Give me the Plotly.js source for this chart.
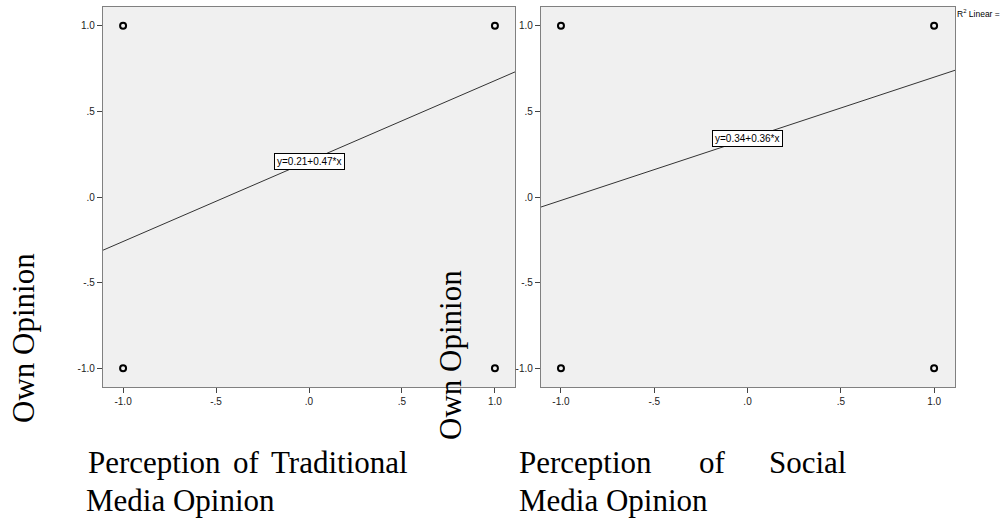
<!DOCTYPE html>
<html>
<head>
<meta charset="utf-8">
<script src="https://cdn.plot.ly/plotly-3.0.1.min.js"></script>
<style>html,body{margin:0;padding:0;background:#fff;}#chart{width:1001px;height:524px;}</style>
</head>
<body>
<div id="chart"></div>
<script>
// Data
const leftX = [-1, 1, -1, 1];
const leftY = [1, 1, -1, -1];
const rightX = [-1, 1, -1, 1];
const rightY = [1, 1, -1, -1];
const intercepts = [0.21, 0.34];
const slopes = [0.47, 0.36];
const equationLabels = ["y=0.21+0.47*x", "y=0.34+0.36*x"];
const tickVals = [-1, -0.5, 0, 0.5, 1];
const tickText = ["-1.0", "-.5", ".0", ".5", "1.0"];
const xRanges = [[-1.108, 1.108], [-1.107, 1.112]];
const yRange = [-1.11, 1.11];

const W = 1001, H = 524;
const px = v => v / W;
const py = v => 1 - v / H;

function fitLine(i, xa, ya) {
  const xs = xRanges[i];
  return {
    x: xs, y: xs.map(x => intercepts[i] + slopes[i] * x),
    xaxis: xa, yaxis: ya, mode: 'lines', type: 'scatter',
    line: {color: '#333333', width: 1}, hoverinfo: 'skip', showlegend: false
  };
}
function pts(xs, ys, xa, ya) {
  return {
    x: xs, y: ys, xaxis: xa, yaxis: ya, mode: 'markers', type: 'scatter',
    marker: {symbol: 'circle-open', size: 6, color: '#000', line: {width: 2, color: '#000'}},
    showlegend: false, cliponaxis: false
  };
}

const data = [
  fitLine(0, 'x', 'y'), pts(leftX, leftY, 'x', 'y'),
  fitLine(1, 'x2', 'y2'), pts(rightX, rightY, 'x2', 'y2')
];

const axisCommon = {
  showgrid: false, zeroline: false, showline: true, mirror: true,
  linecolor: '#808080', linewidth: 1.2,
  ticks: 'outside', ticklen: 5, tickwidth: 1, tickcolor: '#444',
  tickvals: tickVals, ticktext: tickText,
  tickfont: {family: 'Liberation Sans, Arial, sans-serif', size: 10, color: '#222'},
  fixedrange: true
};

const serif = {family: 'Liberation Serif, Times New Roman, serif', size: 31, color: '#000'};

const annotations = [
  {xref: 'x', yref: 'y', x: 0, y: intercepts[0], text: equationLabels[0], showarrow: false,
   bgcolor: '#ffffff', bordercolor: '#000', borderwidth: 1, borderpad: 2,
   font: {family: 'Liberation Sans, Arial, sans-serif', size: 10, color: '#000'}},
  {xref: 'x2', yref: 'y2', x: 0, y: intercepts[1], text: equationLabels[1], showarrow: false,
   bgcolor: '#ffffff', bordercolor: '#000', borderwidth: 1, borderpad: 2,
   font: {family: 'Liberation Sans, Arial, sans-serif', size: 10, color: '#000'}},
  {xref: 'paper', yref: 'paper', x: px(956), y: py(14), xanchor: 'left', yanchor: 'middle',
   text: 'R<sup>2</sup> Linear =', showarrow: false, borderpad: 0,
   font: {family: 'Liberation Sans, Arial, sans-serif', size: 8.5, color: '#000'}},
  // vertical axis titles
  {xref: 'paper', yref: 'paper', x: px(23), y: py(338), xanchor: 'center', yanchor: 'middle',
   text: 'Own Opinion', textangle: -90, showarrow: false, font: serif},
  {xref: 'paper', yref: 'paper', x: px(450), y: py(355), xanchor: 'center', yanchor: 'middle',
   text: 'Own Opinion', textangle: -90, showarrow: false, font: serif},
  // left x title (justified first line)
  {xref: 'paper', yref: 'paper', x: px(86), y: py(462), xanchor: 'left', yanchor: 'middle',
   text: 'Perception', showarrow: false, font: serif},
  {xref: 'paper', yref: 'paper', x: px(231), y: py(462), xanchor: 'left', yanchor: 'middle',
   text: 'of', showarrow: false, font: serif},
  {xref: 'paper', yref: 'paper', x: px(410), y: py(462), xanchor: 'right', yanchor: 'middle',
   text: 'Traditional', showarrow: false, font: serif},
  {xref: 'paper', yref: 'paper', x: px(84), y: py(500), xanchor: 'left', yanchor: 'middle',
   text: 'Media Opinion', showarrow: false, font: serif},
  // right x title
  {xref: 'paper', yref: 'paper', x: px(517), y: py(462), xanchor: 'left', yanchor: 'middle',
   text: 'Perception', showarrow: false, font: serif},
  {xref: 'paper', yref: 'paper', x: px(697), y: py(462), xanchor: 'left', yanchor: 'middle',
   text: 'of', showarrow: false, font: serif},
  {xref: 'paper', yref: 'paper', x: px(849), y: py(462), xanchor: 'right', yanchor: 'middle',
   text: 'Social', showarrow: false, font: serif},
  {xref: 'paper', yref: 'paper', x: px(517), y: py(500), xanchor: 'left', yanchor: 'middle',
   text: 'Media Opinion', showarrow: false, font: serif}
];

const layout = {
  width: W, height: H,
  margin: {l: 0, r: 0, t: 0, b: 0},
  paper_bgcolor: '#ffffff', plot_bgcolor: '#f0f0f0',
  showlegend: false,
  xaxis: Object.assign({}, axisCommon, {domain: [px(103), px(515)], range: xRanges[0], anchor: 'y'}),
  yaxis: Object.assign({}, axisCommon, {domain: [py(387), py(7)], range: yRange, anchor: 'x'}),
  xaxis2: Object.assign({}, axisCommon, {domain: [px(541), px(955)], range: xRanges[1], anchor: 'y2'}),
  yaxis2: Object.assign({}, axisCommon, {domain: [py(387), py(7)], range: yRange, anchor: 'x2'}),
  annotations: annotations
};

Plotly.newPlot('chart', data, layout, {staticPlot: true, displayModeBar: false});
</script>
</body>
</html>
